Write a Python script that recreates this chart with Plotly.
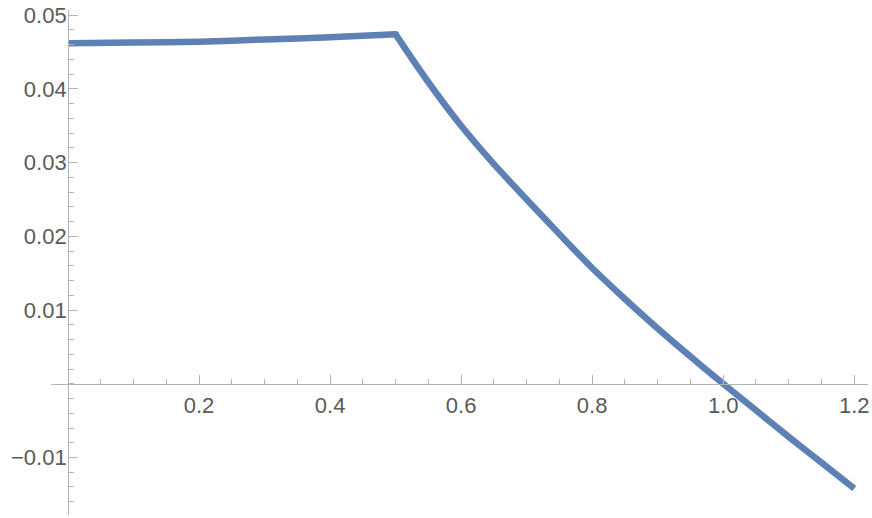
import plotly.graph_objects as go

# Data
# flat branch (x <= 0.5)
x_left = [0.0, 0.1, 0.2, 0.3, 0.4, 0.5]
y_left = [0.0462, 0.0463, 0.0464, 0.0467, 0.0470, 0.0474]
# falling branch (x >= 0.5)
x_right = [0.5, 0.55, 0.6, 0.65, 0.7, 0.75, 0.8, 0.85, 0.9, 0.95,
           1.0, 1.05, 1.1, 1.15, 1.2]
y_right = [0.0474, 0.0409, 0.0350, 0.0298, 0.0250, 0.0203, 0.0157, 0.0115,
           0.0075, 0.0037, 0.0000, -0.0036, -0.0072, -0.0107, -0.0142]
corner_x = [0.5]
corner_y = [0.0474]

x_ticks = [0.2, 0.4, 0.6, 0.8, 1.0, 1.2]
x_tick_text = ["0.2", "0.4", "0.6", "0.8", "1.0", "1.2"]
y_ticks = [-0.01, 0.01, 0.02, 0.03, 0.04, 0.05]
y_tick_text = ["\u22120.01", "0.01", "0.02", "0.03", "0.04", "0.05"]

x_range = [-0.026, 1.221]
y_range = [-0.0178, 0.0507]

x_axis_pos = (0 - y_range[0]) / (y_range[1] - y_range[0])
y_axis_pos = (0 - x_range[0]) / (x_range[1] - x_range[0])

line_color = "#5E81B5"
line_w = 6.5
axis_color = "#b3b3b3"
label_font = dict(family="Liberation Sans, Arial, sans-serif", size=22, color="#5a5a5a")

fig = go.Figure()
for xs, ys in ((x_left, y_left), (x_right, y_right)):
    fig.add_trace(go.Scatter(
        x=xs, y=ys, mode="lines",
        line=dict(color=line_color, width=line_w, shape="spline", smoothing=0.8),
        hoverinfo="skip", showlegend=False,
    ))
fig.add_trace(go.Scatter(
    x=corner_x, y=corner_y, mode="markers",
    marker=dict(color=line_color, size=line_w, line=dict(width=0)),
    hoverinfo="skip", showlegend=False,
))

fig.update_layout(
    width=872, height=518,
    margin=dict(l=51, r=4, t=10, b=3, autoexpand=False),
    paper_bgcolor="white", plot_bgcolor="white",
    showlegend=False,
    xaxis=dict(
        range=x_range, anchor="free", position=x_axis_pos, automargin=False,
        showgrid=False, zeroline=False,
        showline=True, linecolor=axis_color, linewidth=1.2,
        tickmode="array", tickvals=x_ticks, ticktext=x_tick_text,
        ticks="inside", ticklen=9, tickwidth=1, tickcolor=axis_color,
        tickfont=label_font, ticklabelstandoff=2,
        minor=dict(dtick=0.05, tick0=0, ticks="inside", ticklen=5,
                   tickwidth=1, tickcolor=axis_color, showgrid=False),
    ),
    yaxis=dict(
        range=y_range, anchor="free", position=y_axis_pos, automargin=False,
        showgrid=False, zeroline=False,
        showline=True, linecolor=axis_color, linewidth=1.2,
        tickmode="array", tickvals=y_ticks, ticktext=y_tick_text,
        ticks="inside", ticklen=9, tickwidth=1, tickcolor=axis_color,
        tickfont=label_font, ticklabelstandoff=-3,
        minor=dict(dtick=0.002, tick0=0, ticks="inside", ticklen=5,
                   tickwidth=1, tickcolor=axis_color, showgrid=False),
    ),
)

fig.write_html(
    "out.html",
    config={"displayModeBar": False, "staticPlot": True},
    post_script="document.body.style.margin='0';document.body.style.padding='0';",
)
